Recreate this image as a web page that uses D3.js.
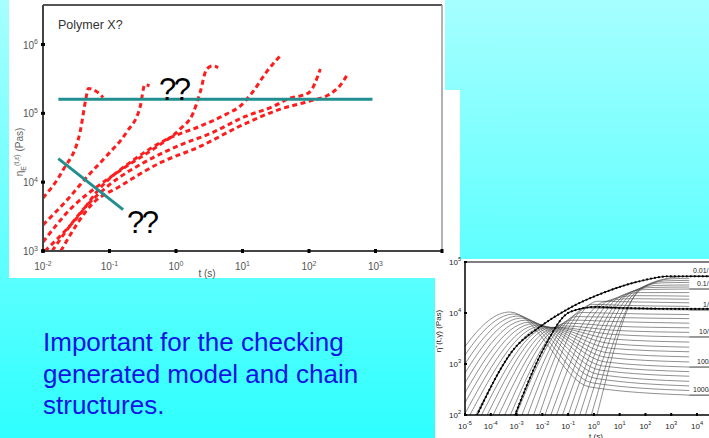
<!DOCTYPE html>
<html><head><meta charset="utf-8">
<script src="https://cdn.jsdelivr.net/npm/d3@7"></script>
<style>
  body { margin: 0; overflow: hidden; }
  svg { display: block; font-family: "Liberation Sans", Arial, sans-serif; }
</style>
</head><body>
<svg id="slide" width="709" height="438"></svg>
<script>
// ---------- left chart: eta_E+(t) growth curves (red dashed) ----------
const leftCurves = [
  [[0.01,5.9e3],[0.02,1.5e4],[0.036,5.3e4],[0.044,1.6e5],[0.048,2.3e5],[0.065,2.05e5],[0.08,1.7e5]],
  [[0.01,2.4e3],[0.023,5.5e3],[0.046,1.2e4],[0.09,2.4e4],[0.18,5.3e4],[0.29,1.26e5],[0.34,2.6e5],[0.4,2.5e5]],
  [[0.01,1.35e3],[0.028,4.4e3],[0.065,8.6e3],[0.18,1.7e4],[0.52,3.3e4],[1.15,5.9e4],[1.8,1e5],[2.3,2e5],[2.9,4.4e5],[3.6,4.9e5],[4.3,4.6e5]],
  [[0.0107,1e3],[0.033,3.1e3],[0.072,8.2e3],[0.23,2.1e4],[0.73,4.2e4],[2.3,6.5e4],[5.8,9.8e4],[9.1,1.26e5],[14,2e5],[23,4e5],[37,6.9e5]],
  [[0.0137,1e3],[0.04,4e3],[0.1,9.2e3],[0.32,1.9e4],[1.03,3.3e4],[3.6,5.3e4],[11,9e4],[29,1.26e5],[47,1.6e5],[100,2e5],[148,4.4e5]],
  [[0.0185,1e3],[0.057,5e3],[0.14,8.6e3],[0.57,1.9e4],[2.3,3.3e4],[9.1,6.5e4],[37,1.15e5],[100,1.5e5],[205,1.9e5],[290,2.5e5],[380,3.7e5]]
];
const leftXTicks = [-2, -1, 0, 1, 2, 3, 4];
const leftYTicks = [3, 4, 5, 6];
const plateauLine = [[0.017, 1.6e5], [900, 1.6e5]];
const slopeLine = [[0.017, 2.2e4], [0.16, 4e3]];

// ---------- right chart: eta+(t, rate) family (values as log10 exponents) ----------
const onsetT   = [-6.60,-6.38,-6.15,-5.93,-5.70,-5.48,-5.26,-5.03,-4.81,-4.58,-4.36,-4.14,-3.91,-3.69,-3.46,-3.24,-3.02,-2.79,-2.57,-2.34,-2.12,-1.90,-1.67,-1.45,-1.22,-1.00,-0.78,-0.55,-0.33,-0.10,0.12];
const peakT    = [-3.26,-3.10,-2.95,-2.80,-2.65,-2.50,-2.35,-2.20,-2.05,-1.90,-1.75,-1.60,-1.45,-1.25,-1.05,-0.85,-0.65,-0.45,-0.25,-0.05,0.15,0.40,0.60,0.80,1.00,1.20,1.35,1.50,1.65,1.80,1.86];
const peakEta  = [4.02,3.98,3.94,3.90,3.86,3.82,3.79,3.76,3.74,3.73,3.72,3.72,3.72,3.75,3.80,3.86,3.93,4.01,4.10,4.17,4.23,4.22,4.25,4.28,4.32,4.35,4.38,4.40,4.42,4.45,4.50];
const settleT  = [-0.16,-0.05,0.05,0.15,0.25,0.35,0.45,0.50,0.55,0.60,0.65,0.70,0.75,0.80,0.85,0.90,0.95,1.00,1.05,1.10,1.20,1.40,1.60,1.80,2.00,2.20,2.40,2.60,2.80,3.00,3.30];
const settleEta= [2.55,2.63,2.72,2.80,2.88,2.96,3.04,3.13,3.22,3.31,3.40,3.49,3.58,3.66,3.74,3.83,3.91,3.99,4.08,4.15,4.22,4.28,4.34,4.40,4.46,4.50,4.54,4.59,4.63,4.67,4.71];
const endEta   = [2.39,2.48,2.57,2.66,2.76,2.85,2.94,3.04,3.14,3.24,3.33,3.43,3.53,3.62,3.71,3.80,3.89,3.97,4.06,4.13,4.20,4.27,4.33,4.40,4.47,4.51,4.55,4.60,4.64,4.68,4.72];
const labelledIdx = [30, 24, 18, 12, 6, 0];
const rateLabels = ["0.01/", "0.1/", "1/", "10/", "100/", "1000/"];
const dotted001 = [[-4.53,2],[-3.14,3.27],[-2.09,3.73],[-0.93,4.10],[0.34,4.39],[1.67,4.61],[2.95,4.72],[3.7,4.72],[4.5,4.72]];
const dotted1   = [[-3.06,2],[-1.98,3.27],[-0.93,4.02],[0.10,4.12],[1.0,4.10],[3.7,4.08],[4.5,4.08]];
const rightXTicks = [-5,-4,-3,-2,-1,0,1,2,3,4];
const rightYTicks = [2,3,4,5];

const textLines = ["Important for the checking", "generated model and chain", "structures."];

const svg = d3.select("#slide");

// background gradient
const defs = svg.append("defs");
const grad = defs.append("linearGradient").attr("id", "bg").attr("x1", 0).attr("y1", 0).attr("x2", 0).attr("y2", 1);
grad.append("stop").attr("offset", "0%").attr("stop-color", "#a6ffff");
grad.append("stop").attr("offset", "100%").attr("stop-color", "#2effff");
svg.append("rect").attr("width", 709).attr("height", 438).attr("fill", "url(#bg)");

// power-of-ten label: "10" plus raised exponent
function powLabel(g, x, y, exp, size, anchor, fill) {
  const t = g.append("text").attr("x", x).attr("y", y).attr("font-size", size)
    .attr("text-anchor", anchor).attr("fill", fill);
  t.append("tspan").text("10");
  t.append("tspan").attr("dy", -size * 0.45).attr("font-size", size * 0.7).text(exp);
  return t;
}

// ================= left chart =================
svg.append("rect").attr("x", 9).attr("y", 0).attr("width", 436).attr("height", 278).attr("fill", "#fff");
svg.append("rect").attr("x", 445).attr("y", 90).attr("width", 15).attr("height", 170).attr("fill", "#fff");

const lx = d3.scaleLog().domain([1e-2, 1e4]).range([43, 442]);
const ly = d3.scaleLog().domain([1e3, 1e6]).range([251, 44.5]);
const L = svg.append("g");

L.append("line").attr("x1", 43).attr("x2", 442).attr("y1", 5).attr("y2", 5).attr("stroke", "#555").attr("stroke-width", 2);
L.append("line").attr("x1", 442).attr("x2", 442).attr("y1", 5).attr("y2", 251).attr("stroke", "#999").attr("stroke-width", 1.5);

L.append("defs").append("clipPath").attr("id", "lclip")
  .append("rect").attr("x", 43).attr("y", 5).attr("width", 399).attr("height", 246);

const lline = d3.line().x(d => lx(d[0])).y(d => ly(d[1])).curve(d3.curveMonotoneX);
L.append("g").attr("clip-path", "url(#lclip)").selectAll("path").data(leftCurves).join("path")
  .attr("d", lline).attr("fill", "none").attr("stroke", "#ff1c1c")
  .attr("stroke-width", 3).attr("stroke-dasharray", "5,3.5");

L.append("line").attr("x1", 43).attr("x2", 43).attr("y1", 5).attr("y2", 252).attr("stroke", "#444").attr("stroke-width", 2);
L.append("line").attr("x1", 42).attr("x2", 442).attr("y1", 251).attr("y2", 251).attr("stroke", "#444").attr("stroke-width", 2);

leftXTicks.forEach(e => {
  const x = lx(Math.pow(10, e));
  L.append("rect").attr("x", x - 1.5).attr("y", 249).attr("width", 3).attr("height", 4).attr("fill", "#000");
  powLabel(L, x, 270, e, 10, "middle", "#555");
});
leftYTicks.forEach(e => {
  const y = ly(Math.pow(10, e));
  L.append("rect").attr("x", 41).attr("y", y - 1.5).attr("width", 4).attr("height", 3).attr("fill", "#000");
  powLabel(L, 38, y + 4, e, 10, "end", "#555");
});
L.append("text").attr("x", 207).attr("y", 277).attr("font-size", 10).attr("fill", "#555").attr("text-anchor", "middle").text("t (s)");

const lyl = L.append("text").attr("transform", "translate(23,152) rotate(-90)")
  .attr("text-anchor", "middle").attr("font-size", 10).attr("fill", "#666");
lyl.append("tspan").text("η");
lyl.append("tspan").attr("dy", 3).attr("font-size", 7).text("E");
lyl.append("tspan").attr("dy", -7).attr("font-size", 7).text("(t,ε̇)");
lyl.append("tspan").attr("dy", 4).text(" (Pas)");

L.append("text").attr("x", 58).attr("y", 29).attr("font-size", 12.5).attr("fill", "#333").text("Polymer X?");

const tline = d3.line().x(d => lx(d[0])).y(d => ly(d[1]));
[plateauLine, slopeLine].forEach(p => {
  L.append("path").attr("d", tline(p)).attr("fill", "none").attr("stroke", "#218f8f").attr("stroke-width", 3);
});

L.append("text").attr("x", 159).attr("y", 100).attr("font-size", 31).attr("letter-spacing", -2.5).attr("fill", "#000").text("??");
L.append("text").attr("x", 127).attr("y", 233).attr("font-size", 31).attr("letter-spacing", -2.5).attr("fill", "#000").text("??");

// ================= blue text =================
svg.append("g").selectAll("text").data(textLines).join("text")
  .attr("x", 43).attr("y", (d, i) => 351 + i * 31.5)
  .attr("font-size", 26).attr("fill", "#1212e6").text(d => d);

// ================= right chart =================
svg.append("rect").attr("x", 435).attr("y", 259).attr("width", 274).attr("height", 179).attr("fill", "#fff");

const rx = d3.scaleLog().domain([1e-5, 1e4]).range([465, 697]);
const ry = d3.scaleLog().domain([1e2, 1e5]).range([415, 262]);
const R = svg.append("g");
R.append("defs").append("clipPath").attr("id", "rclip")
  .append("rect").attr("x", 465).attr("y", 262).attr("width", 244).attr("height", 153);

const rline = d3.line().x(d => rx(Math.pow(10, d[0]))).y(d => ry(Math.pow(10, d[1]))).curve(d3.curveMonotoneX);
const family = onsetT.map((o, i) => [[o, 2], [peakT[i], peakEta[i]], [settleT[i], settleEta[i]], [3.7, endEta[i]]]);

const plot = R.append("g").attr("clip-path", "url(#rclip)");
plot.selectAll("path.thin").data(family).join("path").attr("class", "thin")
  .attr("d", rline).attr("fill", "none").attr("stroke", "#444").attr("stroke-width", 0.6);

// labelled rates run on to the right edge
plot.selectAll("path.lab").data(labelledIdx).join("path").attr("class", "lab")
  .attr("d", i => rline([[3.7, endEta[i]], [4.5, endEta[i]]]))
  .attr("fill", "none").attr("stroke", "#222").attr("stroke-width", 0.9);

[dotted001, dotted1].forEach(pts => {
  const p = plot.append("path").attr("d", rline(pts)).attr("fill", "none").attr("stroke", "#111").attr("stroke-width", 1.1);
  const node = p.node(), len = node.getTotalLength();
  for (let s = 0; s < len; s += 4) {
    const q = node.getPointAtLength(s);
    plot.append("circle").attr("cx", q.x).attr("cy", q.y).attr("r", 1.1).attr("fill", "#000");
  }
});

R.append("line").attr("x1", 465).attr("x2", 465).attr("y1", 262).attr("y2", 416).attr("stroke", "#000").attr("stroke-width", 1.5);
R.append("line").attr("x1", 464).attr("x2", 709).attr("y1", 415).attr("y2", 415).attr("stroke", "#000").attr("stroke-width", 1.5);
R.append("line").attr("x1", 465).attr("x2", 709).attr("y1", 262).attr("y2", 262).attr("stroke", "#000").attr("stroke-width", 1);

rightXTicks.forEach(e => {
  const x = rx(Math.pow(10, e));
  R.append("rect").attr("x", x - 1).attr("y", 413).attr("width", 2).attr("height", 3).attr("fill", "#000");
  powLabel(R, x, 429, e, 8, "middle", "#222");
});
rightYTicks.forEach(e => {
  const y = ry(Math.pow(10, e));
  R.append("rect").attr("x", 464).attr("y", y - 1).attr("width", 3).attr("height", 2).attr("fill", "#000");
  powLabel(R, 461, y + 3, e, 8, "end", "#222");
});
R.append("text").attr("x", 596).attr("y", 439).attr("font-size", 8).attr("text-anchor", "middle").attr("fill", "#222").text("t (s)");
R.append("text").attr("transform", "translate(441,331) rotate(-90)").attr("text-anchor", "middle")
  .attr("font-size", 8).attr("fill", "#222").text("η⁺(t,γ̇) (Pas)");

R.selectAll("text.rate").data(labelledIdx).join("text").attr("class", "rate")
  .attr("x", (d, i) => [693, 697, 703, 699, 697, 693][i])
  .attr("y", i => ry(Math.pow(10, endEta[i])) - 3)
  .attr("font-size", 7).attr("fill", "#222").text((d, i) => rateLabels[i]);
</script>
</body></html>
